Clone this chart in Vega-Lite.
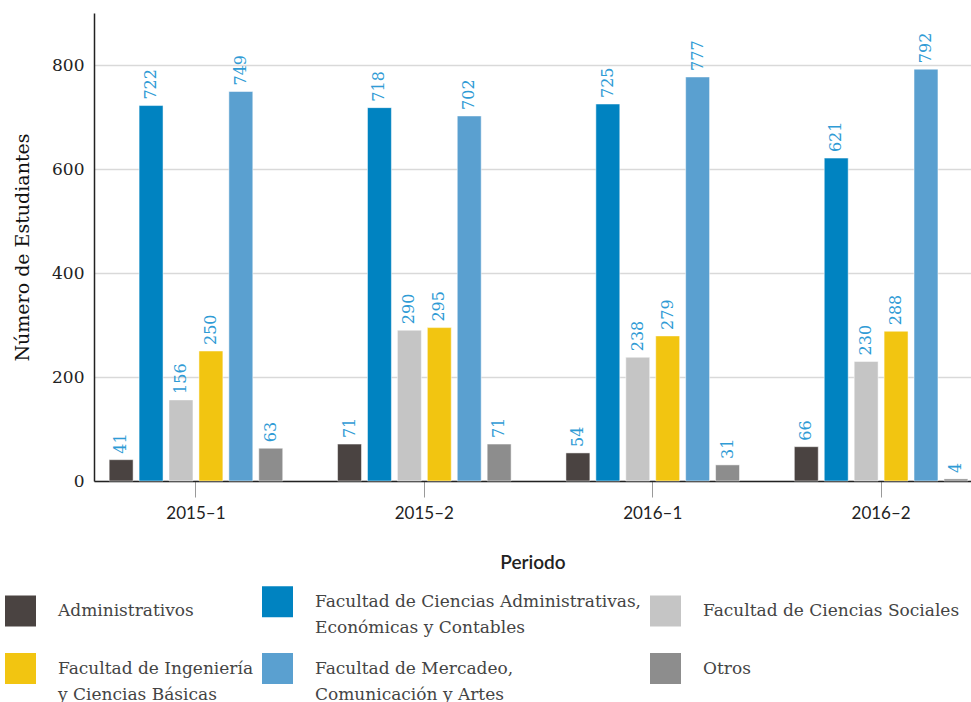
{
  "$schema": "https://vega.github.io/schema/vega-lite/v6.json",
  "width": 877,
  "height": 468,
  "autosize": {"type": "none"},
  "padding": {"left": 94, "top": 13, "right": 0, "bottom": 221},
  "background": "white",
  "data": {
    "values": [
      {"periodo": "2015–1", "cat": "Administrativos", "n": 41},
      {"periodo": "2015–1", "cat": "Facultad de Ciencias Administrativas,|Económicas y Contables", "n": 722},
      {"periodo": "2015–1", "cat": "Facultad de Ciencias Sociales", "n": 156},
      {"periodo": "2015–1", "cat": "Facultad de Ingeniería|y Ciencias Básicas", "n": 250},
      {"periodo": "2015–1", "cat": "Facultad de Mercadeo,|Comunicación y Artes", "n": 749},
      {"periodo": "2015–1", "cat": "Otros", "n": 63},
      {"periodo": "2015–2", "cat": "Administrativos", "n": 71},
      {"periodo": "2015–2", "cat": "Facultad de Ciencias Administrativas,|Económicas y Contables", "n": 718},
      {"periodo": "2015–2", "cat": "Facultad de Ciencias Sociales", "n": 290},
      {"periodo": "2015–2", "cat": "Facultad de Ingeniería|y Ciencias Básicas", "n": 295},
      {"periodo": "2015–2", "cat": "Facultad de Mercadeo,|Comunicación y Artes", "n": 702},
      {"periodo": "2015–2", "cat": "Otros", "n": 71},
      {"periodo": "2016–1", "cat": "Administrativos", "n": 54},
      {"periodo": "2016–1", "cat": "Facultad de Ciencias Administrativas,|Económicas y Contables", "n": 725},
      {"periodo": "2016–1", "cat": "Facultad de Ciencias Sociales", "n": 238},
      {"periodo": "2016–1", "cat": "Facultad de Ingeniería|y Ciencias Básicas", "n": 279},
      {"periodo": "2016–1", "cat": "Facultad de Mercadeo,|Comunicación y Artes", "n": 777},
      {"periodo": "2016–1", "cat": "Otros", "n": 31},
      {"periodo": "2016–2", "cat": "Administrativos", "n": 66},
      {"periodo": "2016–2", "cat": "Facultad de Ciencias Administrativas,|Económicas y Contables", "n": 621},
      {"periodo": "2016–2", "cat": "Facultad de Ciencias Sociales", "n": 230},
      {"periodo": "2016–2", "cat": "Facultad de Ingeniería|y Ciencias Básicas", "n": 288},
      {"periodo": "2016–2", "cat": "Facultad de Mercadeo,|Comunicación y Artes", "n": 792},
      {"periodo": "2016–2", "cat": "Otros", "n": 4}
    ]
  },
  "encoding": {
    "x": {
      "field": "periodo", "type": "nominal", "sort": null,
      "scale": {"paddingInner": 0.24, "paddingOuter": 0.04, "align": 0.83},
      "axis": {
        "title": "Periodo", "labelAngle": 0, "labelFont": "Lato", "labelFontSize": 17,
        "labelColor": "#222", "labelPadding": 8, "tickSize": 16, "tickColor": "#999", "tickWidth": 1,
        "domainColor": "#222", "domainWidth": 1.5, "titleFont": "Lato", "titleFontSize": 19,
        "titleFontWeight": 600, "titleColor": "#222", "titlePadding": 32
      }
    },
    "xOffset": {
      "field": "cat", "type": "nominal", "sort": null,
      "scale": {"paddingInner": 0.2, "paddingOuter": 0}
    },
    "y": {
      "field": "n", "type": "quantitative",
      "scale": {"domain": [0, 900], "nice": false},
      "axis": {
        "title": "Número de Estudiantes", "values": [0, 200, 400, 600, 800],
        "labelFont": "DejaVu Serif", "labelFontSize": 17, "labelColor": "#222",
        "ticks": false, "labelPadding": 10, "domainColor": "#222", "domainWidth": 1.5,
        "gridColor": "#d9d9d9", "gridWidth": 1.5,
        "titleFont": "DejaVu Serif", "titleFontSize": 19, "titleFontWeight": "normal",
        "titleColor": "#111", "titlePadding": 19
      }
    }
  },
  "layer": [
    {
      "mark": {"type": "bar", "stroke": "white", "strokeWidth": 0.5},
      "encoding": {
        "color": {
          "field": "cat", "type": "nominal", "sort": null,
          "scale": {"range": ["#4a4341", "#0083c1", "#c5c5c5", "#f2c511", "#5aa0d0", "#8d8d8d"]},
          "legend": {
            "title": null, "orient": "none", "legendX": -89, "legendY": 573,
            "columns": 3, "direction": "horizontal", "symbolType": "square",
            "symbolSize": 961, "symbolStrokeWidth": 0, "symbolOpacity": 1,
            "labelFont": "DejaVu Serif", "labelFontSize": 17, "labelColor": "#444",
            "labelOffset": 22, "labelLimit": 400, "columnPadding": 8, "rowPadding": 17,
            "padding": 0, "labelExpr": "split(datum.label, '|')"
          }
        }
      }
    },
    {
      "mark": {"type": "text", "angle": 270, "align": "left", "baseline": "middle", "dx": 6,
        "font": "DejaVu Serif", "fontSize": 16, "color": "#2f9bd5"},
      "encoding": {"text": {"field": "n", "type": "quantitative"}}
    }
  ],
  "config": {
    "view": {"stroke": null},
    "style": {"guide-label": {"lineHeight": 26}}
  }
}
